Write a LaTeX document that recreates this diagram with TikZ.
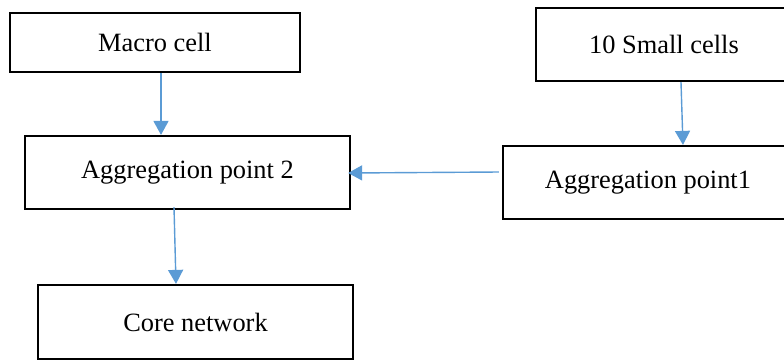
\documentclass[tikz,border=0pt]{standalone}
\usepackage{fontspec}
\setmainfont{Liberation Serif}
\usepackage{tikz}
\usetikzlibrary{arrows.meta}
\definecolor{linkblue}{HTML}{5B9BD5}

\begin{document}
\begin{tikzpicture}[
   x=0.5pt,y=-0.5pt,
   font=\fontsize{13.2}{15}\selectfont,
   cellbox/.style={draw,line width=1.1pt,rectangle,inner sep=0pt},
   link/.style={-{Triangle[length=7pt,width=7.5pt]},line width=0.7pt,color=linkblue},
   every node/.style={anchor=center}]
\useasboundingbox (0,0) rectangle (784,361);
\clip (0,0) rectangle (784,361);
\node[cellbox,minimum width=145pt,minimum height=29.5pt] (macro) at (155,42.5) {Macro cell};
\node[cellbox,minimum width=128pt,minimum height=36.5pt] (small) at (664,44.5) {10 Small cells};
\node[cellbox,minimum width=162.5pt,minimum height=36.5pt] (agg2) at (187.5,172.5) {Aggregation point 2};
\node[cellbox,minimum width=145pt,minimum height=36.5pt] (agg1) at (648,182.5) {Aggregation point1};
\node[cellbox,minimum width=157.5pt,minimum height=37pt] (core) at (195.5,322) {Core network};
\draw[link] ([xshift=3pt]macro.south) to ([xshift=3pt]macro.south |- agg2.north);
\draw[link] ([xshift=8.5pt]small.south) to ([xshift=17.5pt]agg1.north);
\draw[link] ([xshift=-1.5pt,yshift=5.25pt]agg1.west) to ([xshift=-1.5pt,yshift=-0.25pt]agg2.east);
\draw[link] ([xshift=-6.75pt,yshift=1.5pt]agg2.south) to ([xshift=-9.75pt]core.north);
\end{tikzpicture}
\end{document}
